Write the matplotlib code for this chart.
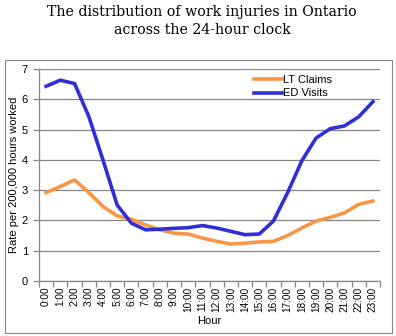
import matplotlib
matplotlib.use("Agg")
import matplotlib.pyplot as plt
from matplotlib.patches import Rectangle

hours = [f"{h}:00" for h in range(24)]
lt_claims = [2.92, 3.12, 3.34, 2.92, 2.46, 2.15, 2.04, 1.85, 1.69, 1.58, 1.55, 1.42,
             1.31, 1.22, 1.25, 1.29, 1.31, 1.50, 1.75, 1.98, 2.10, 2.25, 2.53, 2.64]
ed_visits = [6.43, 6.63, 6.52, 5.44, 4.00, 2.51, 1.91, 1.69, 1.71, 1.74, 1.76, 1.83,
             1.75, 1.64, 1.53, 1.55, 1.98, 2.92, 3.97, 4.72, 5.03, 5.12, 5.42, 5.92]

W, H = 396, 336
fig = plt.figure(figsize=(W / 100, H / 100), dpi=100)
ax = fig.add_axes([39 / W, 1 - 281 / H, (380 - 39) / W, (281 - 69) / H])

# outer chart frame
fig.patches.append(Rectangle((4.5 / W, 1 - 332.5 / H), 387.5 / W, 272.5 / H,
                             transform=fig.transFigure, fill=False,
                             edgecolor="#868686", lw=0.8))

x = list(range(24))
c_lt = "#f79646"
c_ed = "#2f2fd6"
ax.plot(x, lt_claims, color=c_lt, lw=2.6, label="LT Claims", solid_joinstyle="round")
ax.plot(x, ed_visits, color=c_ed, lw=2.6, label="ED Visits", solid_joinstyle="round")

ax.set_xlim(-0.5, 23.5)
ax.set_ylim(0, 7)
ax.set_yticks(range(8))
ax.grid(axis="y", color="#868686", lw=0.9)
ax.set_axisbelow(True)
for s in ["top", "right"]:
    ax.spines[s].set_visible(False)
for s in ["left", "bottom"]:
    ax.spines[s].set_color("#868686")
    ax.spines[s].set_linewidth(0.9)

ax.set_xticks([i - 0.5 for i in range(25)], minor=False)
ax.set_xticklabels([])
ax.set_xticks(x, minor=True)
ax.set_xticklabels(hours, minor=True, rotation=90, fontsize=7.2,
                   family="Liberation Sans")
ax.tick_params(axis="x", which="major", length=4, color="#868686", width=0.9)
ax.tick_params(axis="x", which="minor", length=0, pad=4)
ax.tick_params(axis="y", length=4, color="#868686", width=0.9, labelsize=8, pad=4)
for t in ax.get_yticklabels():
    t.set_family("Liberation Sans")

ax.set_xlabel("Hour", fontsize=8, family="Liberation Sans", labelpad=3)
ax.set_ylabel("Rate per 200,000 hours worked", fontsize=8,
              family="Liberation Sans", labelpad=2)

ax.legend(loc="upper right", bbox_to_anchor=(0.875, 1.0), frameon=False,
          prop={"family": "Liberation Sans", "size": 8}, handlelength=2.5,
          handletextpad=0.1, labelspacing=0.35, borderaxespad=0.1)

fig.text(0.51, 1 - 12 / H, "The distribution of work injuries in Ontario",
         ha="center", va="center", fontsize=10.2, family="DejaVu Serif")
fig.text(0.51, 1 - 30 / H, "across the 24-hour clock",
         ha="center", va="center", fontsize=10.2, family="DejaVu Serif")

fig.savefig("out.png", dpi=100)
